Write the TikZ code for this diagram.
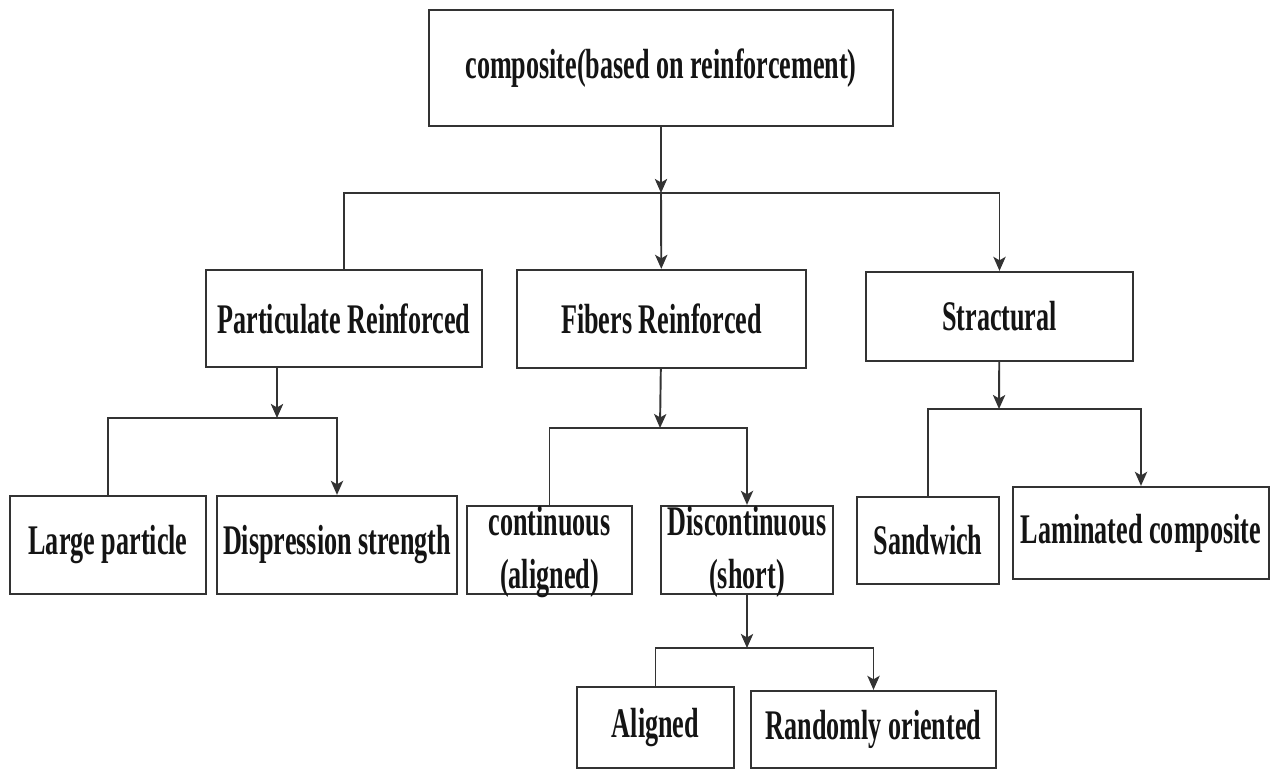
\documentclass[tikz,border=0pt]{standalone}
\usepackage{fontspec}
\setmainfont{Liberation Serif}[FakeStretch=0.62]
\usetikzlibrary{shapes,arrows,arrows.meta,positioning}
\tikzset{
catbox/.style={rectangle,draw=black!80,line width=1.3pt,fill=white,inner sep=2pt,
  align=center,text=black!92,font=\fontsize{24}{30}\selectfont\bfseries},
catarr/.style={draw=black!80,line width=1.1pt,-{Stealth[length=8pt,width=7pt,inset=2pt]}}
}
\newcommand{\boxtwoline}[2]{\smash{\raisebox{-7pt}{\begin{tabular}[c]{@{}c@{}}#1\\#2\end{tabular}}}}

\begin{document}
\begin{tikzpicture}[x=0.02cm,y=-0.02cm]
\useasboundingbox (0,0) rectangle (1272,769);
\node[catbox,minimum width=9.28cm,minimum height=2.32cm] (comp) at (661,68) {composite(based on reinforcement)};
\node[catbox,minimum width=5.52cm,minimum height=1.94cm] (part) at (344,318.5) {Particulate Reinforced};
\node[catbox,minimum width=5.78cm,minimum height=1.96cm] (fib) at (661.5,319) {Fibers Reinforced};
\node[catbox,minimum width=5.34cm,minimum height=1.78cm] (stru) at (999.5,316.5) {Stractural};
\node[catbox,minimum width=3.92cm,minimum height=1.96cm] (large) at (108,545) {Large particle};
\node[catbox,minimum width=4.8cm,minimum height=1.96cm] (disp) at (337,545) {Dispression strength};
\node[catbox,minimum width=3.3cm,minimum height=1.76cm] (cont) at (549.5,550) {\boxtwoline{continuous}{(aligned)}};
\node[catbox,minimum width=3.44cm,minimum height=1.76cm] (disc) at (747,550) {\boxtwoline{Discontinuous}{(short)}};
\node[catbox,minimum width=2.84cm,minimum height=1.74cm] (sand) at (928,540.5) {Sandwich};
\node[catbox,minimum width=5.12cm,minimum height=1.84cm] (lam) at (1141,533) {Laminated composite};
\node[catbox,minimum width=3.14cm,minimum height=1.62cm] (alig) at (655.5,727.5) {Aligned};
\node[catbox,minimum width=4.9cm,minimum height=1.54cm] (rand) at (873.5,729.5) {Randomly oriented};
\coordinate (j0) at (661,193);
\coordinate (j1) at (277,418);
\coordinate (j2) at (660,428);
\coordinate (j3) at (999,409);
\coordinate (j4) at (747,648);
\draw[catarr] (comp) -- (j0);
\draw[catarr] (part.north) |- (j0) -| (stru.north);
\draw[catarr] (j0) -- (fib);
\draw[catarr] (j1 |- part.south) -- (j1);
\draw[catarr] (large.north) |- (j1) -| (disp.north);
\draw[catarr] (fib) -- (j2);
\draw[catarr] (cont.north) |- (j2) -| (disc.north);
\draw[catarr] (stru) -- (j3);
\draw[catarr] (sand.north) |- (j3) -| (lam.north);
\draw[catarr] (disc) -- (j4);
\draw[catarr] (alig.north) |- (j4) -| (rand.north);
\end{tikzpicture}
\end{document}
